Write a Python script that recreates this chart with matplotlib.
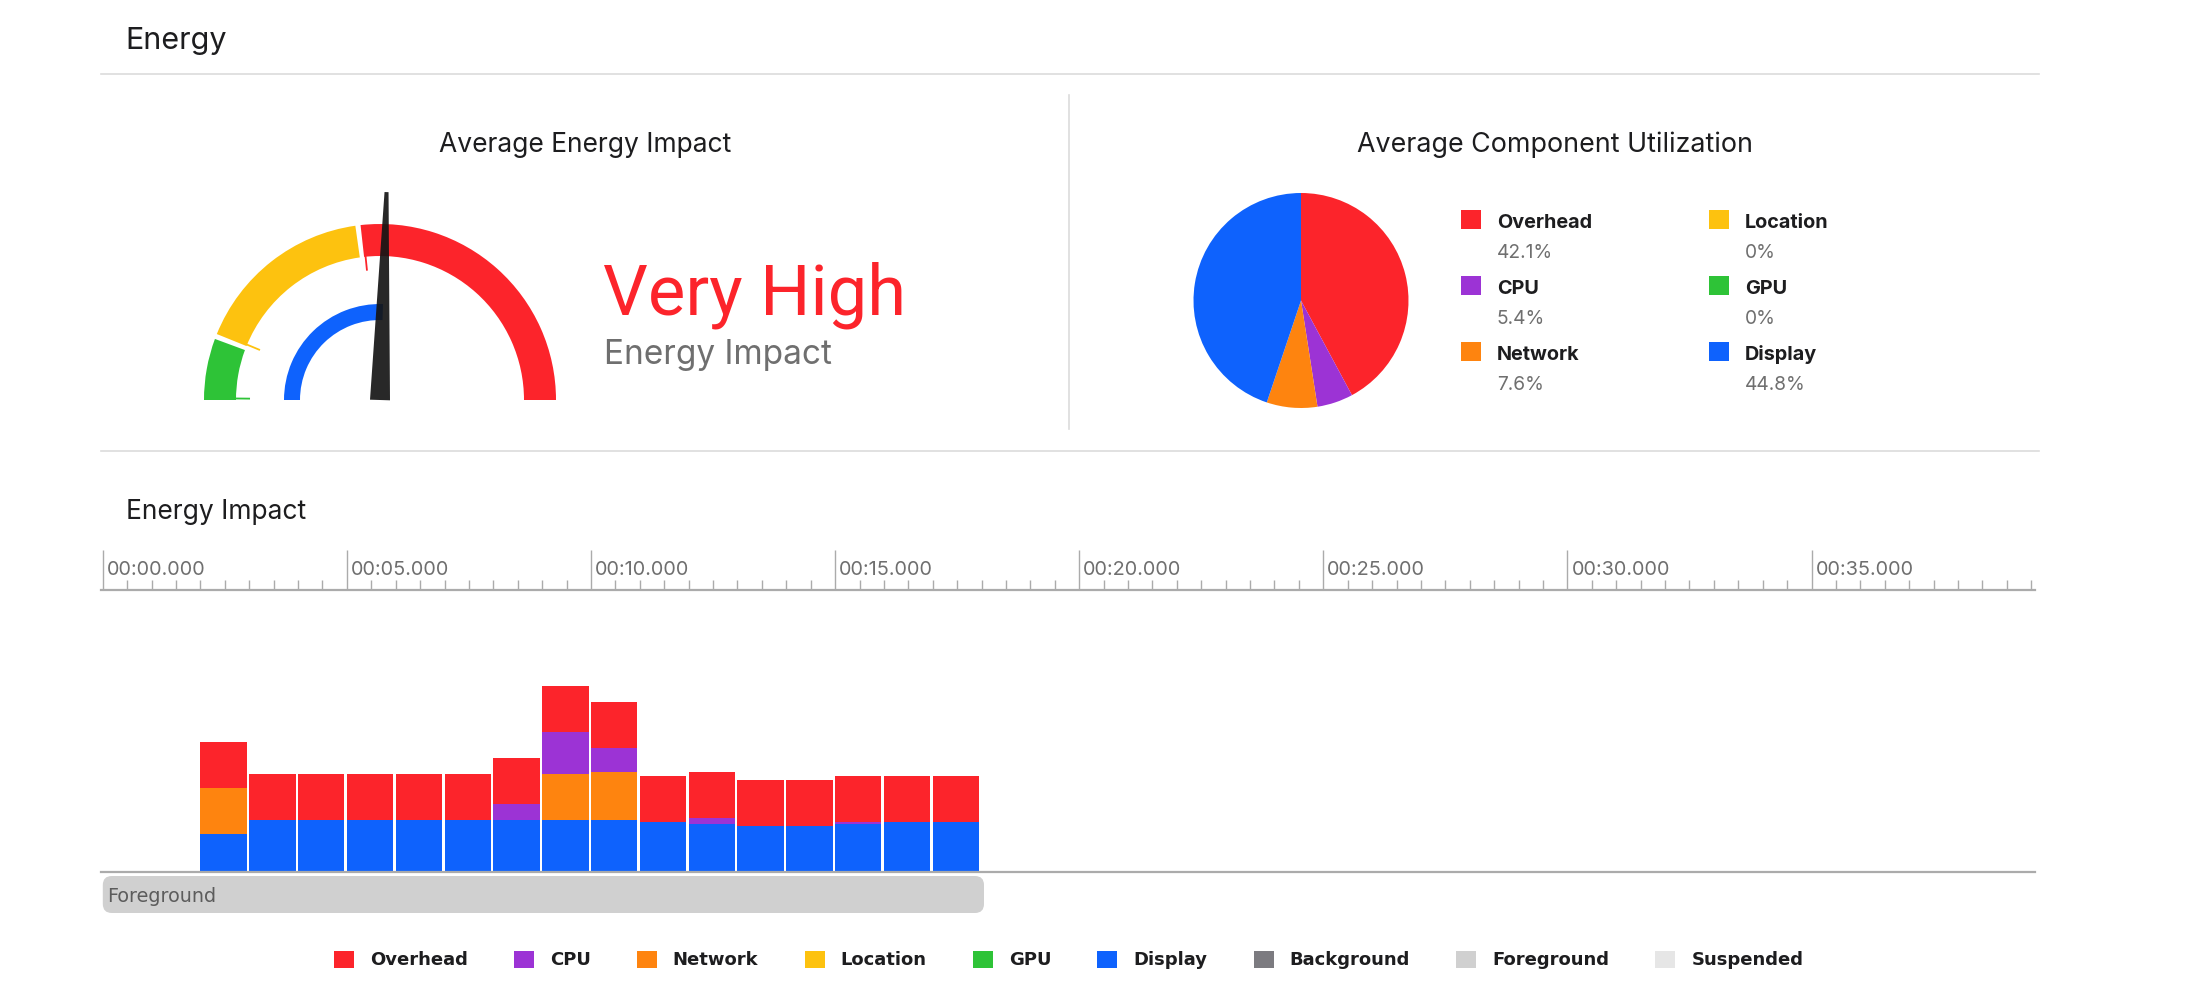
import numpy as np
import matplotlib
matplotlib.use('Agg')
import matplotlib.pyplot as plt
from matplotlib.patches import Wedge, Polygon, Rectangle, FancyBboxPatch, Patch
from matplotlib.ticker import MultipleLocator
from matplotlib import transforms

plt.rcParams['font.family'] = ['Inter', 'DejaVu Sans']

# --- data ---
components = ['Overhead', 'CPU', 'Network', 'Location', 'GPU', 'Display']
comp_colors = ['#fc242b', '#9c33d5', '#fe840f', '#fdc20f', '#2ec337', '#0e62fd']
avg_utilization = [42.1, 5.4, 7.6, 0, 0, 44.8]

# gauge scale (0..20), zones low / high / very high
gauge_max = 20
zone_edges = [0, 2.35, 9.2, 20]
zone_colors = ['#2ec337', '#fdc20f', '#fc242b']
avg_impact = 10.2
impact_level = 'Very High'

# energy impact per second
sample_t = [2, 3, 4, 5, 6, 7, 8, 9, 10, 11, 12, 13, 14, 15, 16, 17]
display = [3.8, 5.2, 5.2, 5.2, 5.2, 5.2, 5.2, 5.2, 5.2, 5.0, 4.8, 4.6, 4.6, 4.8, 5.0, 5.0]
network = [4.6, 0, 0, 0, 0, 0, 0, 4.6, 4.8, 0, 0, 0, 0, 0, 0, 0]
cpu = [0, 0, 0, 0, 0, 0, 1.6, 4.2, 2.4, 0, 0.6, 0, 0, 0.2, 0, 0]
overhead = [4.6, 4.6, 4.6, 4.6, 4.6, 4.6, 4.6, 4.6, 4.6, 4.6, 4.6, 4.6, 4.6, 4.6, 4.6, 4.6]

# app state periods
state_names = ['Foreground']
state_start = [0]
state_end = [18.05]

legend_labels = components + ['Background', 'Foreground', 'Suspended']
legend_colors = comp_colors + ['#7c7b80', '#d0d0d0', '#e6e6e6']

TEXT = '#1d1d1f'
GRAY = '#6f6f6f'
LINE = '#dcdcdc'
RULER = '#ababab'

W, H = 2196, 988
fig = plt.figure(figsize=(W / 100, H / 100), dpi=100)


def box(x0, y0, x1, y1):
    return [x0 / W, 1 - y1 / H, (x1 - x0) / W, (y1 - y0) / H]


bg = fig.add_axes([0, 0, 1, 1])
bg.set_xlim(0, W)
bg.set_ylim(H, 0)
bg.axis('off')

# headers and separators
bg.text(125, 49, 'Energy', fontsize=22, color=TEXT, va='baseline')
bg.plot([101, 2039], [74, 74], color=LINE, lw=1.2)
bg.plot([101, 2039], [451, 451], color=LINE, lw=1.2)
bg.plot([1068.5, 1068.5], [95, 429], color=LINE, lw=1.2)
bg.text(585, 152, 'Average Energy Impact', fontsize=19, color=TEXT, ha='center', va='baseline')
bg.text(1555, 152, 'Average Component Utilization', fontsize=19.3, color=TEXT, ha='center', va='baseline')
bg.text(126, 519, 'Energy Impact', fontsize=19, color=TEXT, va='baseline')
bg.text(603, 314, impact_level, fontsize=50.8, family=['Roboto', 'DejaVu Sans'],
        color=zone_colors[-1], va='baseline')
bg.text(604, 364, 'Energy Impact', fontsize=24, color=GRAY, va='baseline')

# --- gauge ---
gax = fig.add_axes(box(190, 150, 600, 420))
gax.set_xlim(-190, 220)
gax.set_ylim(-20, 250)
gax.axis('off')


def ang(v):
    return 180 - v / gauge_max * 180


half_gap = 0.095
for i, c in enumerate(zone_colors):
    v0 = zone_edges[i] + (half_gap if i > 0 else 0)
    v1 = zone_edges[i + 1] - (half_gap if i < len(zone_colors) - 1 else 0)
    gax.add_patch(Wedge((0, 0), 176, ang(v1), ang(v0), width=32, color=c, lw=0))
    a = np.radians(ang(v0) - 0.6)
    gax.plot([130 * np.cos(a), 145 * np.cos(a)], [130 * np.sin(a), 145 * np.sin(a)],
             color=c, lw=1.3, solid_capstyle='butt')

gax.add_patch(Wedge((0, 0), 96, ang(avg_impact), 180, width=16, color=comp_colors[-1], lw=0))

a = np.radians(ang(avg_impact))
u = np.array([np.cos(a), np.sin(a)])
p = np.array([-np.sin(a), np.cos(a)])
needle = [10 * p, 208 * u + 2 * p, 208 * u - 2 * p, -10 * p]
gax.add_patch(Polygon(needle, closed=True, color='#151515', alpha=0.92, lw=0))

# --- pie ---
pax = fig.add_axes(box(1301 - 107.5, 300.5 - 107.5, 1301 + 107.5, 300.5 + 107.5))
pax.pie(avg_utilization, colors=comp_colors, startangle=90, counterclock=False,
        radius=1, wedgeprops=dict(linewidth=0))
pax.set_xlim(-1, 1)
pax.set_ylim(-1, 1)
pax.set_aspect('equal')
pax.axis('off')

for i, (name, pct, c) in enumerate(zip(components, avg_utilization, comp_colors)):
    col, row = divmod(i, 3)
    sx = 1461 + col * 248
    sy = 209.5 + row * 66
    bg.add_patch(Rectangle((sx, sy), 19.5, 19.5, color=c, lw=0))
    bg.text(sx + 36, sy + 18, name, fontsize=14.3, weight='bold', color=TEXT, va='baseline')
    bg.text(sx + 36, sy + 48, f'{pct:g}%', fontsize=13.8, color=GRAY, va='baseline')

# --- timeline ---
t0_px, px_per_s = 102.8, 48.82
x_left, x_right = 100.8, 2035
tlim = ((x_left - t0_px) / px_per_s, (x_right - t0_px) / px_per_s)

ruler = fig.add_axes(box(x_left, 540, x_right, 590))
ruler.set_xlim(tlim)
ruler.set_ylim(0, 1)
for s in ['top', 'left', 'right']:
    ruler.spines[s].set_visible(False)
ruler.spines['bottom'].set_color(RULER)
ruler.spines['bottom'].set_linewidth(1.6)
ruler.xaxis.set_major_locator(MultipleLocator(5))
ruler.xaxis.set_minor_locator(MultipleLocator(0.5))
ruler.tick_params(axis='x', which='major', direction='in', length=28.8, width=1,
                  color=RULER, labelbottom=False)
ruler.tick_params(axis='x', which='minor', direction='in', length=7.2, width=1, color=RULER)
ruler.set_yticks([])
ruler.patch.set_visible(False)
lab_tr = transforms.offset_copy(ruler.get_xaxis_transform(), fig=fig, x=4, y=0, units='dots')
for t in ruler.get_xticks():
    if tlim[0] <= t <= tlim[1]:
        ruler.text(t, 15.5 / 50, f'00:{int(t):02d}.000', transform=lab_tr, fontsize=14.3,
                   color=GRAY, va='baseline')

bax = fig.add_axes(box(x_left, 590, x_right, 872))
bax.set_xlim(tlim)
bax.set_ylim(0, 28.2)
bottom = np.zeros(len(sample_t))
for vals, c in [(display, comp_colors[5]), (network, comp_colors[2]),
                (cpu, comp_colors[1]), (overhead, comp_colors[0])]:
    bax.bar(sample_t, vals, width=0.95, bottom=bottom, align='edge', color=c, linewidth=0)
    bottom += np.array(vals)
for s in ['top', 'left', 'right']:
    bax.spines[s].set_visible(False)
bax.spines['bottom'].set_color(RULER)
bax.spines['bottom'].set_linewidth(1.6)
bax.set_xticks([])
bax.set_yticks([])
bax.patch.set_visible(False)

# app state strip
sax = fig.add_axes(box(x_left, 876, x_right, 913))
sax.set_xlim(tlim)
sax.set_ylim(0, 1)
sax.axis('off')
x_per_px = (tlim[1] - tlim[0]) / (x_right - x_left)
y_per_px = 1 / (913 - 876)
for name, t_a, t_b in zip(state_names, state_start, state_end):
    sax.add_patch(FancyBboxPatch((t_a, 0), t_b - t_a, 1,
                                 boxstyle=f'round,pad=0,rounding_size={9 * x_per_px}',
                                 mutation_aspect=y_per_px / x_per_px,
                                 color=legend_colors[legend_labels.index(name)], lw=0))
    sax.text(t_a, 0.3, name, transform=transforms.offset_copy(sax.transData, fig=fig, x=4, units='dots'),
             fontsize=13.8, family='DejaVu Sans', color='#5c5c5c', va='baseline')

# --- bottom legend ---
handles = [Patch(color=c, lw=0) for c in legend_colors]
leg = fig.legend(handles, legend_labels, ncol=len(legend_labels), loc='center',
                 bbox_to_anchor=(1068.5 / W, 1 - 960 / H), frameon=False,
                 prop=dict(family='DejaVu Sans', size=13, weight='bold'),
                 handlelength=1.11, handleheight=1.11,
                 handletextpad=0.89, columnspacing=2.55, borderpad=0)
for txt in leg.get_texts():
    txt.set_color(TEXT)

fig.savefig('out.png', dpi=100)
